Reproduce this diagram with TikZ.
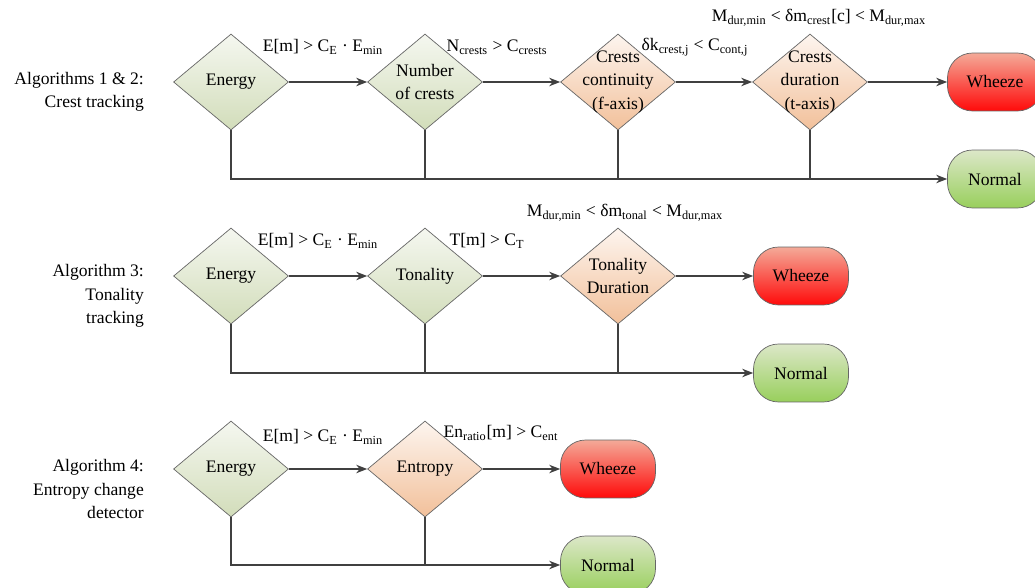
\documentclass[tikz,border=0pt]{standalone}
\usepackage{fontspec}
\setmainfont{Liberation Serif}
\usetikzlibrary{shapes.geometric,arrows.meta,positioning}
\definecolor{gtop}{HTML}{F5F7F0}
\definecolor{gbot}{HTML}{D2DDBA}
\definecolor{otop}{HTML}{FDF5EF}
\definecolor{obot}{HTML}{F2C09A}
\definecolor{wtop}{HTML}{F4AA98}
\definecolor{wbot}{HTML}{FF0A0A}
\definecolor{ntop}{HTML}{DCE7C8}
\definecolor{nbot}{HTML}{98CF5C}
\definecolor{lgray}{HTML}{404040}
\newcommand{\lowsub}[1]{\textsubscript{#1}}
\begin{document}
\begin{tikzpicture}[x=0.02cm, y=-0.02cm, every node/.style={font=\fontsize{10}{13.4}\selectfont}]
    \tikzstyle{marrs}=[line width=0.6pt, draw=lgray, -{Stealth[length=2.2mm,width=1.7mm]}]
    \tikzstyle{mline}=[line width=0.6pt, draw=lgray]
    \tikzstyle{dnode}=[diamond, draw=black!60, line width=0.4pt, minimum width=2.3cm, minimum height=1.92cm, inner sep=-8mm, align=center]
    \tikzstyle{gnode}=[dnode, top color=gtop, bottom color=gbot]
    \tikzstyle{onode}=[dnode, top color=otop, bottom color=obot]
    \tikzstyle{tnode}=[draw=black!60, line width=0.4pt, rounded corners=0.5cm, minimum width=1.9cm, minimum height=1.16cm]
    \tikzstyle{wnode}=[tnode, top color=wtop, bottom color=wbot]
    \tikzstyle{nnode}=[tnode, top color=ntop, bottom color=nbot]
    \tikzstyle{algo}=[anchor=east, align=right]
    \tikzstyle{cond}=[inner sep=0pt]

    \useasboundingbox (0,0) rectangle (1035,588);

    % algorithms 1 & 2
    \node[algo] (a1) at (150,92) {Algorithms 1 \& 2:\\Crest tracking};
    \node[gnode] (e1) at (231,82) {Energy};
    \node[gnode] (c1) at (425,82) {Number\\of crests};
    \node[onode] (k1) at (618,82) {Crests\\continuity\\(f-axis)};
    \node[onode] (d1) at (810,82) {Crests\\duration\\(t-axis)};
    \node[wnode] (w1) at (995,82) {Wheeze};
    \node[nnode] (n1) at (995,179) {Normal};

    \node[cond] (p1) at (323,47) {E[m] > C\lowsub{E} · E\lowsub{min}};
    \node[cond] (q1) at (497,47) {N\lowsub{crests} > C\lowsub{crests}};
    \node[cond] (r1) at (695,47) {δk\lowsub{crest,j} < C\lowsub{cont,j}};
    \node[cond] (s1) at (819,18) {M\lowsub{dur,min} < δm\lowsub{crest}[c] < M\lowsub{dur,max}};

    \draw[marrs] (e1) -- (c1);
    \draw[marrs] (c1) -- (k1);
    \draw[marrs] (k1) -- (d1);
    \draw[marrs] (d1) -- (w1);
    \draw[marrs] (e1.south) |- (n1.west);
    \foreach \i in {c1, k1, d1} {
        \draw[mline] (\i.south) -- (\i.south |- n1.west);
    }

    % algorithm 3
    \node[algo] (a2) at (150,296) {Algorithm 3:\\Tonality\\tracking};
    \node[gnode] (e2) at (231,276) {Energy};
    \node[gnode] (t2) at (425,276) {Tonality};
    \node[onode] (d2) at (618,276) {Tonality\\Duration};
    \node[wnode] (w2) at (801,276) {Wheeze};
    \node[nnode] (n2) at (801,373) {Normal};

    \node[cond] (p2) at (318,241) {E[m] > C\lowsub{E} · E\lowsub{min}};
    \node[cond] (q2) at (487,241) {T[m] > C\lowsub{T}};
    \node[cond] (s2) at (625,213) {M\lowsub{dur,min} < δm\lowsub{tonal} < M\lowsub{dur,max}};

    \draw[marrs] (e2) -- (t2);
    \draw[marrs] (t2) -- (d2);
    \draw[marrs] (d2) -- (w2);
    \draw[marrs] (e2.south) |- (n2.west);
    \foreach \i in {t2, d2} {
        \draw[mline] (\i.south) -- (\i.south |- n2.west);
    }

    % algorithm 4
    \node[algo] (a3) at (150,489) {Algorithm 4:\\Entropy change\\detector};
    \node[gnode] (e3) at (231,469) {Energy};
    \node[onode] (h3) at (425,469) {Entropy};
    \node[wnode] (w3) at (608,469) {Wheeze};
    \node[nnode] (n3) at (608,565) {Normal};

    \node[cond] (p3) at (323,437) {E[m] > C\lowsub{E} · E\lowsub{min}};
    \node[cond] (q3) at (501,433) {En\lowsub{ratio}[m] > C\lowsub{ent}};

    \draw[marrs] (e3) -- (h3);
    \draw[marrs] (h3) -- (w3);
    \draw[marrs] (e3.south) |- (n3.west);
    \draw[mline] (h3.south) -- (h3.south |- n3.west);

\end{tikzpicture}
\end{document}
